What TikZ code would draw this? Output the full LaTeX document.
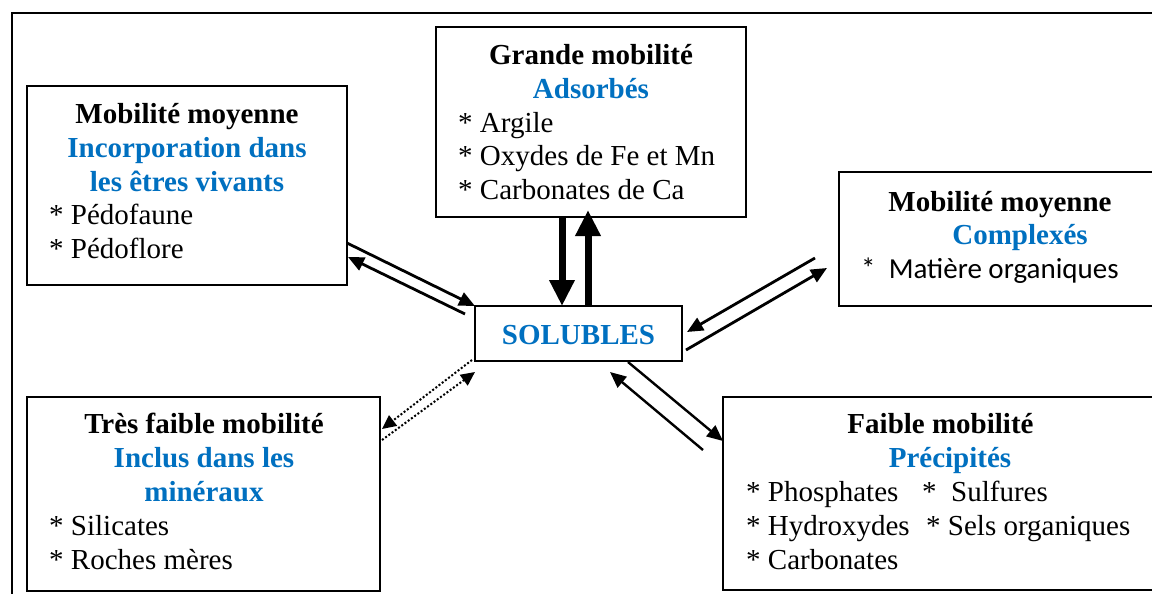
\documentclass[tikz,border=0pt]{standalone}
\usepackage{fontspec}
\setmainfont{Liberation Serif}
\newfontfamily\calibri{Carlito}
\usetikzlibrary{arrows.meta,calc}
\definecolor{titleblue}{HTML}{0070C0}
\begin{document}
\begin{tikzpicture}[x=1pt,y=-1pt,
  box/.style={draw,line width=1.6pt,outer sep=0pt,inner sep=0pt},
  txt/.style={inner sep=0pt,font=\fontsize{29}{33.5}\selectfont},
  head/.style={inner sep=0pt,anchor=base,font=\fontsize{29}{33.5}\selectfont\bfseries},
  sub/.style={head,text=titleblue},
  item/.style={txt,anchor=base west},
  thinarrow/.style={line width=2.8pt,-{Triangle[length=16pt,width=14pt]}},
  thickarrow/.style={line width=7pt,-{Triangle[length=26pt,width=24pt]}},
  dotarrow/.style={line width=2pt,dotted,-{Triangle[length=14pt,width=13pt]}}]
\useasboundingbox (0,0) rectangle (1152,594);
\fill[white] (0,0) rectangle (1152,594);
\clip (0,0) rectangle (1152,594);
\draw[line width=2.5pt] (12,13) rectangle (1175,615);

% boxes
\node[box,minimum width=320pt,minimum height=199pt] (b1) at (187,185.5) {};
\node[box,minimum width=310pt,minimum height=190pt] (b2) at (591,122) {};
\node[box,minimum width=322pt,minimum height=134pt] (b3) at (1000,239) {};
\node[box,minimum width=207pt,minimum height=55pt] (sol) at (578.5,333.5) {};
\node[box,minimum width=353pt,minimum height=194pt] (b5) at (203.5,494) {};
\node[box,minimum width=434pt,minimum height=193pt] (b6) at (940,493.5) {};

% box 1
\node[head] (t1a) at (187,123) {Mobilité moyenne};
\node[sub] (t1b) at (187,157) {Incorporation dans};
\node[sub] (t1c) at (187,191) {les êtres vivants};
\node[item] (t1d) at (49,224) {* Pédofaune};
\node[item] (t1e) at (49,258) {* Pédoflore};

% box 2
\node[head] (t2a) at (591,65) {Grande mobilité};
\node[sub] (t2b) at (591,98.5) {Adsorbés};
\node[item] (t2c) at (458,132) {* Argile};
\node[item] (t2d) at (458,165.5) {* Oxydes de Fe et Mn};
\node[item] (t2e) at (458,199) {* Carbonates de Ca};

% box 3
\node[head] (t3a) at (1000,211) {Mobilité moyenne};
\node[sub] (t3b) at (1020,244) {Complexés};
\node[item,font=\fontsize{29}{33.5}\calibri] (t3c) at (861,278) {*\ \ Matière organiques};

% solubles
\node[sub] (t4) at (578.5,344) {SOLUBLES};

% box 5
\node[head] (t5a) at (204,433) {Très faible mobilité};
\node[sub] (t5b) at (204,467.5) {Inclus dans les};
\node[sub] (t5c) at (204,501.5) {minéraux};
\node[item] (t5d) at (49,535.5) {* Silicates};
\node[item] (t5e) at (49,569) {* Roches mères};

% box 6
\node[head] (t6a) at (940.5,433) {Faible mobilité};
\node[sub] (t6b) at (950,467) {Précipités};
\node[item] (t6c) at (746,501) {* Phosphates};
\node[item] (t6d) at (922,501) {*\ \ Sulfures};
\node[item] (t6e) at (746,535) {* Hydroxydes};
\node[item] (t6f) at (926,535) {* Sels organiques};
\node[item] (t6g) at (746,569) {* Carbonates};

% connectors
\draw[thinarrow] ($(b1.east)+(0,57.5)$) -- (sol.north west);
\draw[thinarrow] ($(sol.west)+(-10,-19.5)$) -- ($(b1.east)+(1,71.5)$);

\draw[thickarrow] ($(b2.south)+(-29,0)$) -- ($(sol.north)+(-16.5,0)$);
\draw[thickarrow] ($(sol.north)+(9.5,0)$) -- ($(b2.south)+(-3,-7)$);

\draw[thinarrow] ($(b3.west)+(-24,19)$) -- ($(sol.east)+(5,-1.5)$);
\draw[thinarrow] ($(sol.east)+(4,16.5)$) -- ($(b3.west)+(-12,29)$);

\draw[thinarrow,line width=2.4pt] ($(sol.south)+(49.5,1)$) -- ($(b6.north west)+(0,44)$);
\draw[thinarrow,line width=2.4pt] ($(b6.north west)+(-20,53)$) -- ($(sol.south)+(31.5,11)$);

\draw[dotarrow] ($(sol.south west)+(-3,-1)$) -- ($(b5.north east)+(2,32)$);
\draw[dotarrow] ($(b5.north east)+(2,43)$) -- ($(sol.south west)+(0,11)$);
\end{tikzpicture}
\end{document}
